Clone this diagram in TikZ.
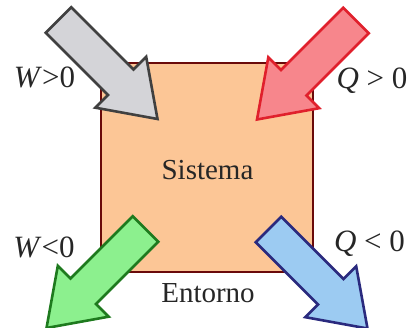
\documentclass[tikz,border=0pt]{standalone}
\usepackage{fontspec}
\setmainfont{Liberation Serif}
\definecolor{boxfill}{HTML}{FCC696}
\definecolor{boxline}{HTML}{6A0A0A}
\definecolor{grayfill}{HTML}{D4D4D8}
\definecolor{grayline}{HTML}{404040}
\definecolor{redfill}{HTML}{F7868C}
\definecolor{redline}{HTML}{E0202C}
\definecolor{greenfill}{HTML}{8CF08E}
\definecolor{greenline}{HTML}{1E7A1E}
\definecolor{bluefill}{HTML}{9CCBF2}
\definecolor{blueline}{HTML}{2A2A7E}
\tikzset{
  x=1pt, y=1pt,
  bigarrow/.pic={
    \path[pic actions, line width=2.6pt, line join=miter]
      (0,18) -- (88,18) -- (88,36) -- (140,0) -- (88,-36) -- (88,-18) -- (0,-18) -- cycle;
  },
  lbl/.style={anchor=base, text=black!85, font=\fontsize{31}{36}\selectfont, inner sep=0pt},
  txt/.style={anchor=base, text=black!85, font=\fontsize{29}{34}\selectfont, inner sep=0pt},
}
\begin{document}
\begin{tikzpicture}
\useasboundingbox (0,0) rectangle (414,328);
\draw[fill=boxfill, draw=boxline, line width=2pt] (101,265) rectangle (313,56);
\node[txt] (sys) at (207.5,148) {Sistema};
\node[txt] (ent) at (208,25) {Entorno};
\pic[fill=grayfill, draw=grayline, rotate=-45] at (58.5,308) {bigarrow};
\pic[fill=redfill, draw=redline, rotate=-135] at (356,307.5) {bigarrow};
\pic[fill=greenfill, draw=greenline, rotate=-135] at (145.5,99) {bigarrow};
\pic[fill=bluefill, draw=blueline, rotate=-45] at (268.5,98.5) {bigarrow};
\node[lbl] (wp) at (44.5,240) {\textit{W}>0};
\node[lbl] (qp) at (372,239) {\textit{Q} > 0};
\node[lbl] (wn) at (44,70) {\textit{W}<0};
\node[lbl] (qn) at (369.5,76) {\textit{Q} < 0};
\end{tikzpicture}
\end{document}
